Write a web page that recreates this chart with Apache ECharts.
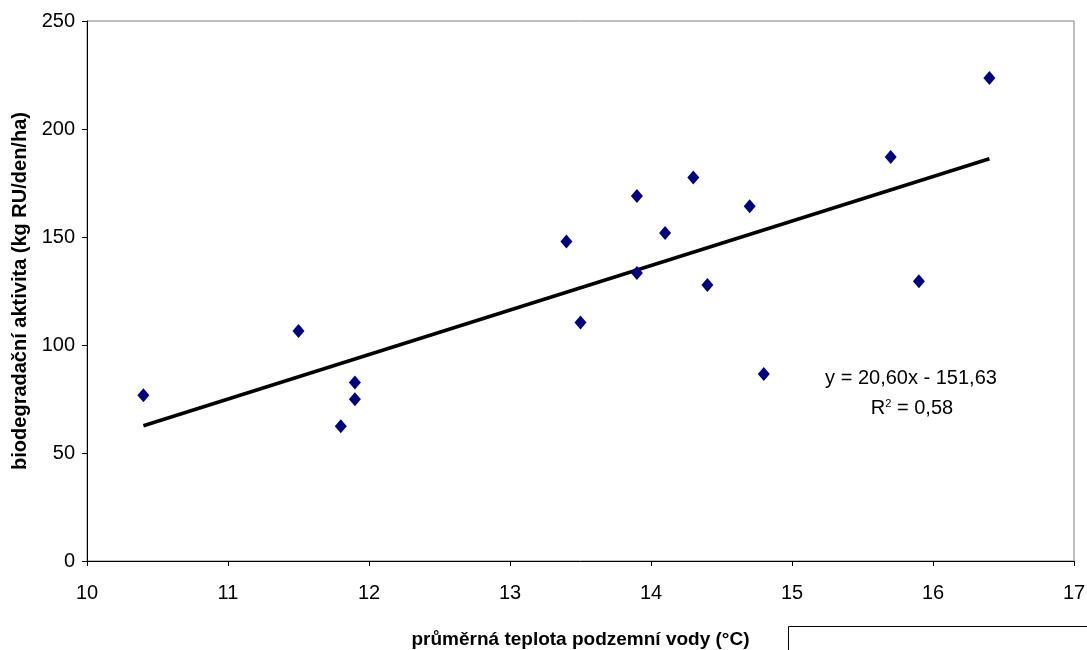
<!DOCTYPE html>
<html>
<head>
<meta charset="utf-8">
<script src="https://cdn.jsdelivr.net/npm/echarts@6/dist/echarts.min.js"></script>
<style>
  html, body { margin: 0; padding: 0; background: #fff; }
  #chart { width: 1087px; height: 650px; }
</style>
</head>
<body>
<div id="chart"></div>
<script>
// naměřené hodnoty
var teplota = [10.4, 11.5, 11.8, 11.9, 11.9, 13.4, 13.5, 13.9, 13.9, 14.1, 14.3, 14.4, 14.7, 14.8, 15.7, 15.9, 16.4]
var aktivita = [76.7, 106.5, 62.4, 82.6, 74.9, 147.9, 110.4, 169.0, 133.3, 151.9, 177.6, 127.8, 164.2, 86.6, 187.0, 129.5, 223.6]

// lineární trend z grafu
var trendSlope = 20.60
var trendIntercept = -151.63
var trendRovnice = 'y = 20,60x - 151,63'
var trendR2 = 'R{sup|2} = 0,58'

var xTicks = [10, 11, 12, 13, 14, 15, 16, 17]
var yTicks = [0, 50, 100, 150, 200, 250]

var font = "'Liberation Sans', Arial, sans-serif"

var points = teplota.map(function (t, i) { return [t, aktivita[i]] })
var xMin = Math.min.apply(null, teplota)
var xMax = Math.max.apply(null, teplota)
var trend = [xMin, xMax].map(function (t) { return [t, trendSlope * t + trendIntercept] })

var chart = echarts.init(document.getElementById('chart'))
chart.setOption({
  animation: false,
  grid: {
    left: 87, top: 21, right: 13, bottom: 89,
    outerBoundsMode: 'none', containLabel: false,
    show: true, borderColor: '#808080', borderWidth: 1
  },
  xAxis: {
    type: 'value',
    min: xTicks[0],
    max: xTicks[xTicks.length - 1],
    interval: 1,
    name: 'průměrná teplota podzemní vody (°C)',
    nameLocation: 'middle',
    nameGap: 69,
    nameTextStyle: { fontFamily: font, fontWeight: 'bold', fontSize: 19, color: '#000' },
    axisLine: { onZero: false, lineStyle: { color: '#000', width: 1 } },
    axisTick: { show: true, length: 5, lineStyle: { color: '#000' } },
    axisLabel: { fontFamily: font, fontSize: 20, color: '#000', margin: 22 },
    splitLine: { show: false }
  },
  yAxis: {
    type: 'value',
    min: yTicks[0],
    max: yTicks[yTicks.length - 1],
    interval: 50,
    name: 'biodegradační aktivita (kg RU/den/ha)',
    nameLocation: 'middle',
    nameGap: 56,
    nameTextStyle: { fontFamily: font, fontWeight: 'bold', fontSize: 20, color: '#000' },
    axisLine: { show: true, lineStyle: { color: '#000', width: 1 } },
    axisTick: { show: true, length: 5, lineStyle: { color: '#000' } },
    axisLabel: { fontFamily: font, fontSize: 20, color: '#000', margin: 12 },
    splitLine: { show: false }
  },
  series: [
    {
      type: 'line',
      data: trend,
      symbol: 'none',
      lineStyle: { color: '#000', width: 3.5 },
      z: 2
    },
    {
      type: 'scatter',
      data: points,
      symbol: 'diamond',
      symbolSize: [12, 14],
      itemStyle: { color: '#000080', opacity: 1 },
      z: 3
    }
  ],
  graphic: [
    {
      type: 'text',
      x: 911,
      y: 378,
      style: { text: trendRovnice, align: 'center', verticalAlign: 'middle', fontFamily: font, fontSize: 20, fill: '#000' }
    },
    {
      type: 'text',
      x: 912,
      y: 408,
      style: {
        text: trendR2,
        align: 'center',
        verticalAlign: 'middle',
        fontFamily: font,
        fontSize: 20,
        fill: '#000',
        rich: { sup: { fontSize: 11, verticalAlign: 'top', fontFamily: font, padding: [0, 0, 8, 0] } }
      }
    },
    {
      type: 'rect',
      shape: { x: 788.5, y: 626.5, width: 320, height: 40 },
      style: { fill: '#fff', stroke: '#000', lineWidth: 1 }
    }
  ]
})
</script>
</body>
</html>
